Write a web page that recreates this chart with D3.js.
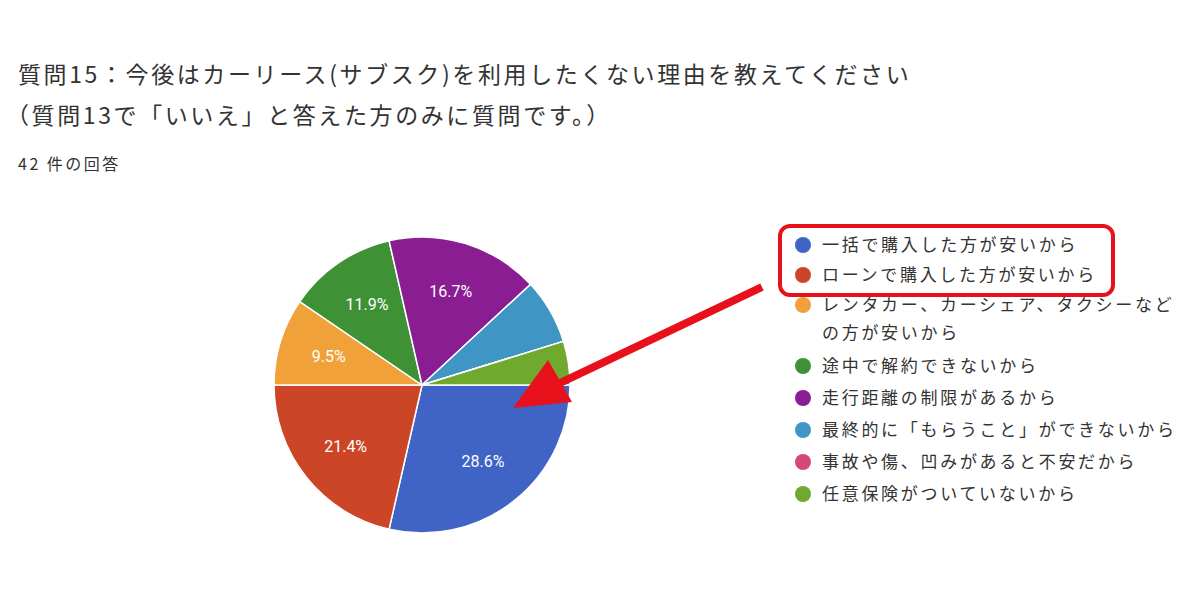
<!DOCTYPE html>
<html><head><meta charset="utf-8">
<script src="https://cdn.jsdelivr.net/npm/d3@7"></script>
<style>body{margin:0;background:#fff;font-family:"Noto Sans CJK JP","Noto Sans",sans-serif;}</style>
</head><body><svg id="c" width="1200" height="600"></svg>
<script>
const labels = ['一括で購入した方が安いから','ローンで購入した方が安いから','レンタカー、カーシェア、タクシーなど|の方が安いから','途中で解約できないから','走行距離の制限があるから','最終的に「もらうこと」ができないから','事故や傷、凹みがあると不安だから','任意保険がついていないから'];
const counts = [12, 9, 4, 5, 7, 3, 0, 2];
const colors = ['#4063c6','#cc4526','#f0a13a','#3e9235','#8b1d93','#3f96c4','#d5487a','#6fa92d'];
const legendY = [245, 275, 305, 366, 398, 430, 462, 494];

const svg = d3.select('#c');
const txt = '#333';
svg.append('text').attr('x', 18).attr('y', 83).attr('font-size', 23).attr('letter-spacing', 2.6).attr('fill', txt)
  .text('質問15：今後はカーリース(サブスク)を利用したくない理由を教えてください');
svg.append('text').attr('x', 6).attr('y', 124).attr('font-size', 23).attr('letter-spacing', 2.6).attr('fill', txt)
  .text('（質問13で「いいえ」と答えた方のみに質問です。）');
svg.append('text').attr('x', 18).attr('y', 170).attr('font-size', 16).attr('letter-spacing', 2.5).attr('fill', txt).text('42 件の回答');

// pie starts at 3 o'clock, clockwise
const total = d3.sum(counts);
const pie = d3.pie().sort(null).startAngle(Math.PI / 2).endAngle(Math.PI * 2.5);
const arcs = pie(counts);
const r = 148;
const arc = d3.arc().innerRadius(0).outerRadius(r);
const g = svg.append('g').attr('transform', 'translate(422,385)');
g.selectAll('path').data(arcs).join('path')
  .attr('d', arc).attr('fill', (d, i) => colors[i]).attr('stroke', '#fff').attr('stroke-width', 1.5);
const lab = d3.arc().innerRadius(r * 0.66).outerRadius(r * 0.66);
g.selectAll('text').data(arcs.filter(d => d.value / total > 0.08)).join('text')
  .attr('transform', d => `translate(${lab.centroid(d)})`)
  .attr('text-anchor', 'middle').attr('dy', '0.35em')
  .attr('font-size', 16).attr('fill', '#fff').attr('font-family', 'Roboto, Arial, sans-serif')
  .text(d => (d.value / total * 100).toFixed(1) + '%');

// legend
const lg = svg.append('g');
labels.forEach((l, i) => {
  lg.append('circle').attr('cx', 803).attr('cy', legendY[i]).attr('r', 8).attr('fill', colors[i]);
  l.split('|').forEach((line, j) => {
    lg.append('text').attr('x', 822).attr('y', legendY[i] + 6 + j * 28)
      .attr('font-size', 17).attr('letter-spacing', 2.7).attr('fill', txt).text(line);
  });
});

// annotation
svg.append('rect').attr('x', 780).attr('y', 226).attr('width', 333).attr('height', 69).attr('rx', 10)
  .attr('fill', 'none').attr('stroke', '#e8101a').attr('stroke-width', 4);
svg.append('line').attr('x1', 762).attr('y1', 287).attr('x2', 560).attr('y2', 383)
  .attr('stroke', '#e8101a').attr('stroke-width', 8);
svg.append('path').attr('d', 'M513,408L548,360L572,402Z').attr('fill', '#e8101a');
</script></body></html>
